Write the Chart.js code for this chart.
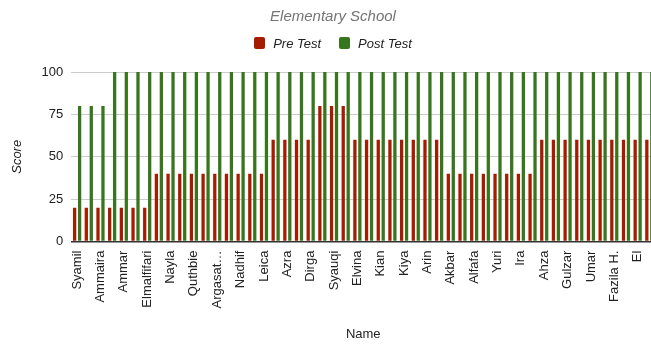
<!DOCTYPE html>
<html>
<head>
<meta charset="utf-8">
<script src="https://cdn.jsdelivr.net/npm/chart.js@4"></script>
<style>
  html, body { margin: 0; padding: 0; background: #fff; overflow: hidden; }
  #wrap { position: relative; width: 666px; height: 346px; }
  #subtitulo {
    position: absolute; left: 0; width: 666px; top: 7px; text-align: center;
    font: italic 15px "Liberation Sans", Arial, sans-serif; color: #757575;
  }
  #leyenda {
    position: absolute; left: 0; width: 666px; top: 36px; text-align: center;
    font: italic 13px "Liberation Sans", Arial, sans-serif; color: #222;
  }
  #leyenda span.item { margin: 0 9px; }
  #leyenda span.caja {
    display: inline-block; width: 11px; height: 12px; border-radius: 2px;
    vertical-align: -1px; margin-right: 8px;
  }
</style>
</head>
<body>
<div id="wrap">
  <canvas id="graficaNotas"></canvas>
  <div id="subtitulo">Elementary School</div>
  <div id="leyenda"></div>
</div>
<script>
// nombres (solo se ven uno de cada dos en el eje)
const nombres = [
  'Syamil', '', 'Ammaira', '', 'Ammar', '', 'Elmalfifari', '', 'Nayla', '',
  'Quthbie', '', 'Argasat…', '', 'Nadhif', '', 'Leica', '', 'Azra', '',
  'Dirga', '', 'Syauqi', '', 'Elvina', '', 'Kian', '', 'Kiya', '',
  'Arin', '', 'Akbar', '', 'Alfafa', '', 'Yuri', '', 'Ira', '',
  'Ahza', '', 'Gulzar', '', 'Umar', '', 'Fazila H.', '', 'El', ''
];

const preTest = [
  20, 20, 20, 20, 20, 20, 20, 40, 40, 40,
  40, 40, 40, 40, 40, 40, 40, 60, 60, 60,
  60, 80, 80, 80, 60, 60, 60, 60, 60, 60,
  60, 60, 40, 40, 40, 40, 40, 40, 40, 40,
  60, 60, 60, 60, 60, 60, 60, 60, 60, 60
];

const postTest = [
  80, 80, 80, 100, 100, 100, 100, 100, 100, 100,
  100, 100, 100, 100, 100, 100, 100, 100, 100, 100,
  100, 100, 100, 100, 100, 100, 100, 100, 100, 100,
  100, 100, 100, 100, 100, 100, 100, 100, 100, 100,
  100, 100, 100, 100, 100, 100, 100, 100, 100, 100
];

const ticksY = [0, 25, 50, 75, 100];

const series = [
  { label: 'Pre Test', data: preTest, color: '#a61c00' },
  { label: 'Post Test', data: postTest, color: '#38761d' }
];

const fuente = '"Liberation Sans", Arial, sans-serif';

// leyenda a mano
const leyenda = document.getElementById('leyenda');
series.forEach(s => {
  const item = document.createElement('span');
  item.className = 'item';
  item.innerHTML = `<span class="caja" style="background:${s.color}"></span>${s.label}`;
  leyenda.appendChild(item);
});

new Chart(document.getElementById('graficaNotas'), {
  type: 'bar',
  data: {
    labels: nombres,
    datasets: series.map(s => ({
      label: s.label,
      data: s.data,
      backgroundColor: s.color,
      borderWidth: 0,
      categoryPercentage: 0.85,
      barPercentage: 0.66
    }))
  },
  options: {
    responsive: true,
    maintainAspectRatio: false,
    animation: false,
    layout: { padding: { top: 72, left: 4, right: 8, bottom: 4 } },
    plugins: {
      legend: { display: false },
      title: { display: false },
      tooltip: { enabled: false }
    },
    scales: {
      x: {
        grid: { display: false },
        border: { display: false },
        ticks: {
          autoSkip: false,
          minRotation: 90,
          maxRotation: 90,
          padding: 1,
          color: '#222',
          font: { family: fuente, size: 13 }
        },
        title: {
          display: true,
          text: 'Name',
          color: '#222',
          font: { family: fuente, size: 13 },
          padding: { top: 17, bottom: 0 }
        }
      },
      y: {
        min: 0,
        max: 100,
        afterBuildTicks: axis => { axis.ticks = ticksY.map(v => ({ value: v })); },
        grid: {
          drawTicks: false,
          color: c => (c.tick && c.tick.value === 0 ? '#333' : '#ccc'),
          lineWidth: c => (c.tick && c.tick.value === 0 ? 1.5 : 1)
        },
        border: { display: false },
        ticks: {
          padding: 8,
          color: '#222',
          font: { family: fuente, size: 13 }
        },
        title: {
          display: true,
          text: 'Score',
          color: '#222',
          font: { family: fuente, size: 13, style: 'italic' },
          padding: { top: 6, bottom: 8 }
        }
      }
    }
  }
});
</script>
</body>
</html>
